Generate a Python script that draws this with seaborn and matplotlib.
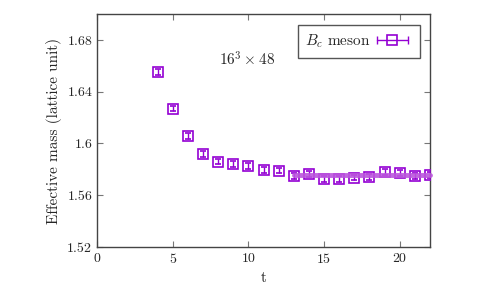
import numpy as np
import pandas as pd
import matplotlib
matplotlib.use('Agg')
import matplotlib.pyplot as plt
import seaborn as sns
from matplotlib.lines import Line2D
from matplotlib.legend_handler import HandlerLine2D, HandlerTuple

# effective mass data
t = [4, 5, 6, 7, 8, 9, 10, 11, 12, 13, 14, 15, 16, 17, 18, 19, 20, 21, 22]
meff = [1.655, 1.627, 1.606, 1.592, 1.586, 1.584, 1.5825, 1.5797, 1.579, 1.5751,
        1.5764, 1.5728, 1.5723, 1.5736, 1.5741, 1.5777, 1.577, 1.5749, 1.5756]
err = [0.0022, 0.0022, 0.0022, 0.0022, 0.0022, 0.0022, 0.0022, 0.0022, 0.0022, 0.0022,
       0.0022, 0.0022, 0.0022, 0.0022, 0.0022, 0.0022, 0.0022, 0.0022, 0.0022]

# plateau fit
fit_t = [13, 22]
fit_m = [1.5754, 1.5754]

sns.set_style('ticks')
plt.rcParams['font.family'] = ['cmr10', 'DejaVu Serif']
plt.rcParams['mathtext.fontset'] = 'cm'
plt.rcParams['axes.formatter.use_mathtext'] = True

df = pd.DataFrame({'t': t, 'meff': meff, 'err': err})
fit_df = pd.DataFrame({'t': fit_t, 'm': fit_m})

fig = plt.figure(figsize=(4.88, 2.93), dpi=100)
ax = fig.add_axes([0.199, 0.157, 0.682, 0.795])

purple = '#9400d3'
ax.errorbar(df['t'], df['meff'], yerr=df['err'], fmt='s', mfc='none', mec=purple,
            ms=7, mew=1.2, ecolor=purple, elinewidth=1, capsize=2.5, capthick=1, zorder=3)
fit_line, = ax.plot(fit_df['t'], fit_df['m'], '-', color='#bb55dd', linewidth=3.5, zorder=4, alpha=0.9)
fit_line.set_clip_on(False)

ax.set_xlim(0, 22)
ax.set_ylim(1.52, 1.70)
ax.set_xticks([0, 5, 10, 15, 20])
ax.set_yticks([1.52, 1.56, 1.6, 1.64, 1.68])
ax.set_yticklabels(['1.52', '1.56', '1.6', '1.64', '1.68'])
ax.tick_params(direction='in', top=True, right=True, length=4, color='#777777', labelsize=10)
for s in ax.spines.values():
    s.set_color('#444444')
    s.set_linewidth(1)

ax.set_xlabel('t', fontsize=11)
ax.set_ylabel('Effective mass (lattice unit)', fontsize=11)

ax.text(9.9, 1.665, r'$16^3\times48$', ha='center', va='center', fontsize=11)

caps = Line2D([], [], color=purple, lw=1, marker='|', ms=6, mew=1)
sq = Line2D([], [], color=purple, lw=0, marker='s', ms=7, mfc='none', mew=1.2)
ax.legend([(caps, sq)], [r'$B_c$ meson'], loc='upper right',
          handler_map={caps: HandlerLine2D(numpoints=2), tuple: HandlerTuple(ndivide=1)},
          markerfirst=False, fancybox=False, edgecolor='#555555', framealpha=1,
          fontsize=11, handlelength=2.6, borderpad=0.5, borderaxespad=0,
          handletextpad=0.1, bbox_to_anchor=(0.97, 0.953))

plt.savefig('out.png', dpi=100)
